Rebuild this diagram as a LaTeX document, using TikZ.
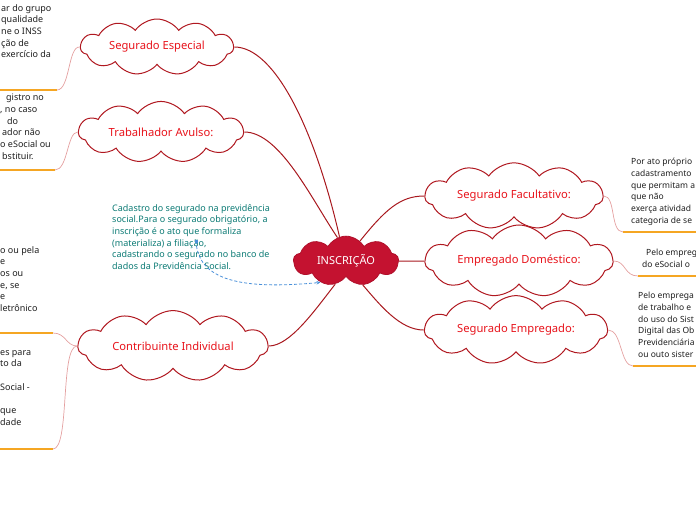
\documentclass[tikz,border=0pt]{standalone}
\usepackage{fontspec}
\setmainfont{Noto Sans}
\usetikzlibrary{shapes.symbols,arrows.meta}
\definecolor{cloudborder}{HTML}{B01820}
\definecolor{cloudtext}{HTML}{E8141C}
\definecolor{maincrimson}{HTML}{C41230}
\definecolor{linkred}{HTML}{A8181E}
\definecolor{pinkline}{HTML}{E4A0A0}
\definecolor{orangeline}{HTML}{F5A623}
\definecolor{tealtext}{HTML}{0B7A74}
\definecolor{dashblue}{HTML}{4A90D9}
\definecolor{bodytext}{HTML}{1E1E1E}
\begin{document}
\begin{tikzpicture}[x=1pt,y=-1pt,
  subcloud/.style={cloud, cloud puffs=11, cloud puff arc=110, aspect=3.6,
    draw=cloudborder, line width=1pt, fill=white, text=cloudtext,
    font=\fontsize{11.2}{13}\selectfont, inner sep=0pt, minimum height=45pt},
  maincloud/.style={cloud, cloud puffs=9, cloud puff arc=120, aspect=2.3,
    draw=maincrimson!90!black, line width=0.8pt, fill=maincrimson, text=white,
    font=\fontsize{11}{13}\selectfont, inner sep=0pt, minimum width=105pt, minimum height=45pt},
  txt/.style={anchor=north west, inner sep=0pt, align=left, text=bodytext,
    font=\fontsize{9}{11.7}\selectfont},
  rtxt/.style={txt, font=\fontsize{8.5}{11.7}\selectfont},
  teal/.style={anchor=north west, inner sep=0pt, align=left, text=tealtext,
    font=\fontsize{9}{11.7}\selectfont},
  link/.style={draw=linkred, line width=1pt},
  thin/.style={draw=pinkline, line width=0.7pt},
  under/.style={draw=orangeline, line width=1.6pt},
]
\useasboundingbox (0,0) rectangle (696,520);

% main and topic clouds
\node[maincloud] (ins) at (346,261) {INSCRIÇÃO};
\node[subcloud, minimum width=153pt] (se) at (157,47) {Segurado Especial};
\node[subcloud, minimum width=165pt] (ta) at (161,132) {Trabalhador Avulso:};
\node[subcloud, minimum width=190pt] (ci) at (173,346) {Contribuinte Individual};
\node[subcloud, minimum width=178pt] (sf) at (514,196) {Segurado Facultativo:};
\node[subcloud, minimum width=188pt] (ed) at (519,261) {Empregado Doméstico:};
\node[subcloud, minimum width=183pt] (sem) at (516,330) {Segurado Empregado:};

% main connectors
\draw[link] (ins.105) .. controls (315,130) and (275,47) .. (se.east);
\draw[link] (ins.110) .. controls (312,200) and (280,132) .. (ta.east);
\draw[link] (ins.245) .. controls (315,310) and (290,346) .. (ci.east);
\draw[link] (ins.55) .. controls (385,210) and (400,196) .. (sf.west);
\draw[link] (ins.east) -- (ed.west);
\draw[link] (ins.-55) .. controls (380,305) and (400,330) .. (sem.west);

% text blocks
\node[txt] (tA) at (1,4) {ar do grupo\\qualidade\\ne o INSS\\ção de\\exercício da};
\node[txt] (tB) at (0,94) {\hspace*{6pt}gistro no\\, no caso\\\hspace*{7pt}do\\\hspace*{2pt}ador não\\o eSocial ou\\\hspace*{2pt}bstituir.};
\node[txt] (tC) at (0,246) {o ou pela\\e\\os ou\\e, se\\e\\letrônico};
\node[txt] (tD) at (0,350) {es para\\to da\\~\\Social -\\~\\que\\dade};
\node[rtxt] (tE) at (631,158) {Por ato próprio\\cadastramento\\que permitam a\\que não\\exerça atividad\\categoria de se};
\node[rtxt] (tF) at (642,249) {\hspace*{4pt}Pelo empreg\\do eSocial o};
\node[rtxt] (tG) at (638,292) {Pelo emprega\\de trabalho e\\do uso do Sist\\Digital das Ob\\Previdenciária\\ou outo sister};
\node[teal] (tT) at (112,204) {Cadastro do segurado na previdência\\social.Para o segurado obrigatório, a\\inscrição é o ato que formaliza\\(materializa) a filiação,\\cadastrando o segurado no banco de\\dados da Previdência Social.};

% underline end points
\coordinate (uA1) at (0,90);   \coordinate (uA2) at (57,90);
\coordinate (uB1) at (0,170);  \coordinate (uB2) at (55,170);
\coordinate (uC1) at (0,333);  \coordinate (uC2) at (53,333);
\coordinate (uD1) at (0,449);  \coordinate (uD2) at (53,449);
\coordinate (uE1) at (623,232);\coordinate (uE2) at (696,232);
\coordinate (uF1) at (638,276);\coordinate (uF2) at (696,276);
\coordinate (uG1) at (633,366);\coordinate (uG2) at (696,366);

% thin connectors to the texts
\draw[thin] (se.west) .. controls (68,46) and (70,90) .. (uA2);
\draw[thin] (ta.west) .. controls (67,132) and (68,170) .. (uB2);
\draw[thin] (ci.west) .. controls (66,346) and (66,333) .. (uC2);
\draw[thin] (ci.west) .. controls (60,346) and (70,449) .. (uD2);
\draw[thin] (sf.east) .. controls (616,196) and (610,232) .. (uE1);
\draw[thin] (ed.east) .. controls (626,261) and (624,276) .. (uF1);
\draw[thin] (sem.east) .. controls (622,330) and (620,366) .. (uG1);

% underlines
\draw[under] (uA1) -- (uA2);
\draw[under] (uB1) -- (uB2);
\draw[under] (uC1) -- (uC2);
\draw[under] (uD1) -- (uD2);
\draw[under] (uE1) -- (uE2);
\draw[under] (uF1) -- (uF2);
\draw[under] (uG1) -- (uG2);

% dashed relation
\coordinate (dstart) at (196,241);
\draw[draw=dashblue, line width=0.8pt, dash pattern=on 3pt off 2pt, -{Stealth[length=4pt,width=3.5pt]}]
  (dstart) .. controls (198,280) and (240,290) .. (ins.220);
\fill[dashblue] (dstart) ++(-1.5,-1.5) rectangle ++(3,3);
\end{tikzpicture}
\end{document}
